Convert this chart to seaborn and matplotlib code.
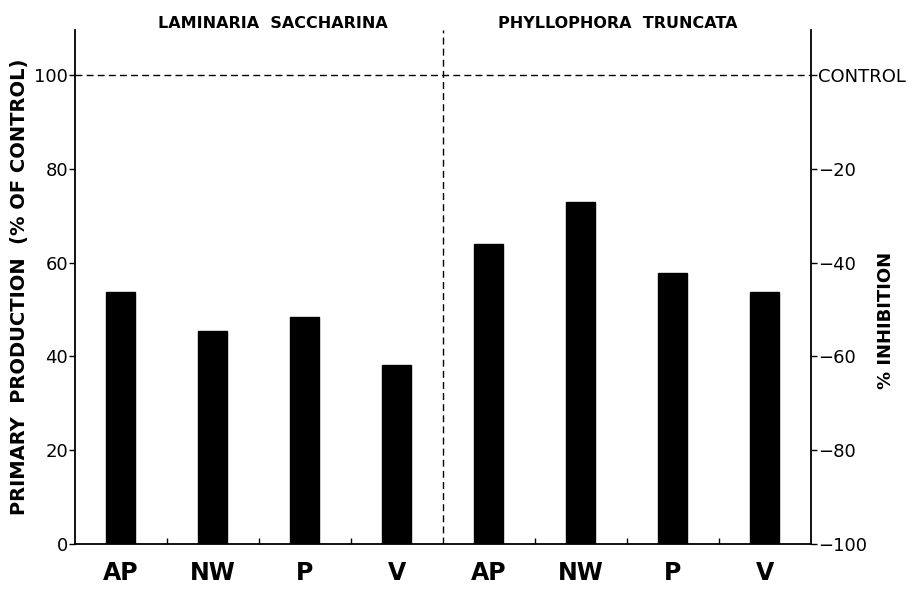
import matplotlib
matplotlib.use("Agg")
import matplotlib.pyplot as plt
import seaborn as sns
import pandas as pd

# Data
species = ["LAMINARIA  SACCHARINA", "PHYLLOPHORA  TRUNCATA"]
treatments = ["AP", "NW", "P", "V"]
laminaria_values = [53.8, 45.4, 48.4, 38.1]
phyllophora_values = [64.0, 72.9, 57.8, 53.7]
left_ticks = [0, 20, 40, 60, 80, 100]
right_tick_labels = ["−100", "−80", "−60", "−40", "−20", "CONTROL"]

keys = [f"L-{t}" for t in treatments] + [f"P-{t}" for t in treatments]
df = pd.DataFrame({
    "key": keys,
    "value": laminaria_values + phyllophora_values,
})

sns.set_theme(style="white")
plt.rcParams["font.family"] = ["DejaVu Sans"]
plt.rcParams["text.color"] = "black"
plt.rcParams["axes.labelcolor"] = "black"
plt.rcParams["xtick.color"] = "black"
plt.rcParams["ytick.color"] = "black"

fig = plt.figure(figsize=(9.09, 5.91), dpi=100)
ax = fig.add_axes([0.0825, 0.0795, 0.8095, 0.8695])

sns.barplot(data=df, x="key", y="value", order=keys, color="black",
            width=0.315, saturation=1, ax=ax, edgecolor="black")

ax.set_xlim(-0.5, 7.5)
ax.set_ylim(0, 109.6)
ax.set_xticks(range(8))
ax.set_xticklabels(treatments + treatments, fontsize=17, fontweight="bold",
                   color="black")
ax.set_xlabel("")
ax.set_ylabel("PRIMARY  PRODUCTION  (% OF CONTROL)", fontsize=14,
              fontweight="bold", color="black")
ax.yaxis.set_label_coords(-0.062, 0.5)
ax.set_yticks(left_ticks)
ax.set_yticklabels([str(v) for v in left_ticks], fontsize=13, color="black")

for s in ["left", "bottom", "right"]:
    ax.spines[s].set_visible(True)
    ax.spines[s].set_color("black")
    ax.spines[s].set_linewidth(1.3)
ax.spines["top"].set_visible(False)

ax.tick_params(axis="y", direction="out", length=4, width=1, colors="black", pad=1)
ax.tick_params(axis="x", length=0, pad=12)
ax.set_xticks([0.5, 1.5, 2.5, 4.5, 5.5, 6.5], minor=True)
ax.tick_params(axis="x", which="minor", direction="in", length=4, width=1,
               bottom=True, color="black")

# control line and divider
ax.axhline(100, color="black", linestyle=(0, (5, 3)), linewidth=1)
ax.axvline(3.5, color="black", linestyle=(0, (5, 3)), linewidth=1)

# species titles
ax.text(1.65, 111.1, species[0], ha="center", va="center", fontsize=11.5,
        fontweight="bold", color="black")
ax.text(5.40, 111.1, species[1], ha="center", va="center", fontsize=11.5,
        fontweight="bold", color="black")

# right axis
ax2 = ax.twinx()
ax2.set_ylim(ax.get_ylim())
ax2.set_yticks(left_ticks)
ax2.set_yticklabels(right_tick_labels, fontsize=13, color="black")
ax2.tick_params(axis="y", direction="out", length=4, width=1, colors="black", pad=1)
for s in ax2.spines.values():
    s.set_visible(False)
ax2.set_ylabel("% INHIBITION", fontsize=13, fontweight="bold", rotation=90,
               color="black")
ax2.yaxis.set_label_position("right")
ax2.yaxis.set_label_coords(1.09, 0.436)

fig.savefig("out.png", dpi=100)
